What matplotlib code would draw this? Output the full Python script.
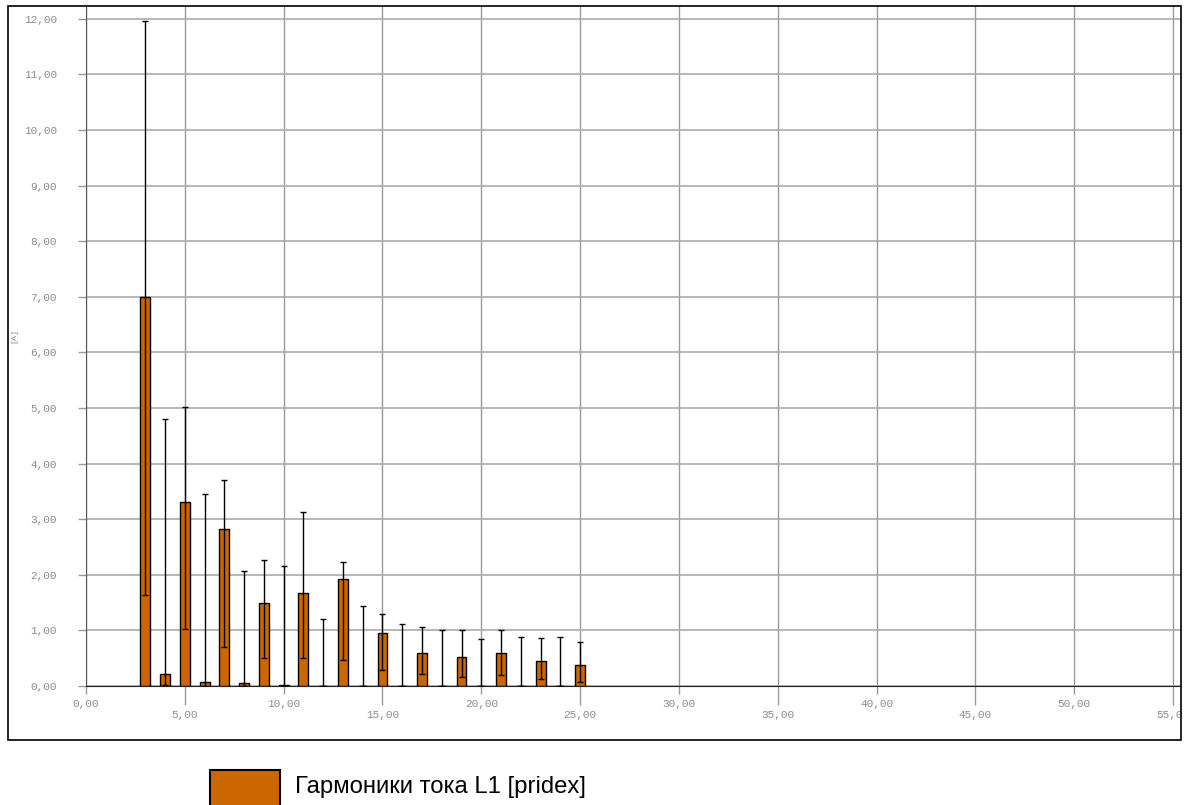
import matplotlib
matplotlib.use("Agg")
import matplotlib.pyplot as plt
from matplotlib.patches import Rectangle
from matplotlib.ticker import FuncFormatter, MultipleLocator, FixedLocator
import numpy as np

# Harmonic number, mean value and min/max range (A)
harmonics = list(range(3, 26))
values = [7.00, 0.22, 3.31, 0.08, 2.82, 0.06, 1.49, 0.01, 1.67, 0.00, 1.93, 0.00,
          0.96, 0.00, 0.59, 0.00, 0.52, 0.00, 0.59, 0.00, 0.45, 0.00, 0.38]
min_vals = [1.63, 0.01, 1.03, 0.00, 0.70, 0.00, 0.51, 0.00, 0.51, 0.00, 0.47, 0.00,
            0.29, 0.00, 0.22, 0.00, 0.16, 0.00, 0.19, 0.00, 0.12, 0.00, 0.07]
max_vals = [11.96, 4.81, 5.01, 3.46, 3.71, 2.07, 2.26, 2.16, 3.13, 1.21, 2.23, 1.44,
            1.30, 1.12, 1.07, 1.00, 1.01, 0.84, 1.01, 0.88, 0.86, 0.88, 0.79]
x_major = [0, 10, 20, 30, 40, 50]
x_minor = [5, 15, 25, 35, 45, 55]
legend_label = "Гармоники тока L1 [pridex]"
y_label = "[A]"

W, H = 1184, 805
fig = plt.figure(figsize=(W / 100, H / 100), dpi=100)

# axes placed in pixel coords: left 86, right 1181, bottom 686, top 6
ax = fig.add_axes([86 / W, (H - 686) / H, (1181 - 86) / W, (686 - 6) / H])

vals = np.array(values)
lo = vals - np.array(min_vals)
hi = np.array(max_vals) - vals

ax.bar(harmonics, values, width=0.5, color="#CC6600", edgecolor="black",
       linewidth=1, zorder=3)
ax.errorbar(harmonics, values, yerr=[lo, hi], fmt="none", ecolor="black",
            elinewidth=1, capsize=2, capthick=1, zorder=4)

ax.set_xlim(0, 55.4)
ax.set_ylim(0, 12.23)

fmt = FuncFormatter(lambda v, p: f"{v:.2f}".replace(".", ","))
ax.xaxis.set_major_locator(FixedLocator(x_major))
ax.xaxis.set_minor_locator(FixedLocator(x_minor))
ax.xaxis.set_major_formatter(fmt)
ax.xaxis.set_minor_formatter(fmt)
ax.yaxis.set_major_locator(MultipleLocator(1))
ax.yaxis.set_major_formatter(fmt)

label_color = "#8c8896"
tick_font = "Liberation Mono"
ax.tick_params(axis="x", which="major", length=6, width=1, color="#999999",
               pad=3, labelsize=8, labelcolor=label_color)
ax.tick_params(axis="x", which="minor", length=14, width=1, color="#999999",
               pad=3, labelsize=8, labelcolor=label_color)
ax.tick_params(axis="y", length=6, width=1, color="#999999", pad=15,
               labelsize=8, labelcolor=label_color)
for lab in ax.get_xticklabels(which="both") + ax.get_yticklabels():
    lab.set_family(tick_font)

ax.grid(True, which="both", axis="x", color="#999999", linewidth=1, zorder=0)
ax.grid(True, which="major", axis="y", color="#aaaaaa", linewidth=1.2, zorder=0)
ax.set_axisbelow(True)

for s in ["top", "right"]:
    ax.spines[s].set_visible(False)
ax.spines["left"].set_color("#555555")
ax.spines["bottom"].set_color("#222222")

fig.text(14 / W, (H - 335) / H, y_label, rotation=90, fontsize=6,
         family=tick_font, color=label_color, ha="center", va="center")

# outer frame
frame = Rectangle((8 / W, (H - 740) / H), (1181 - 8) / W, (740 - 6) / H,
                  transform=fig.transFigure, fill=False,
                  edgecolor="black", linewidth=1.2)
fig.patches.append(frame)

# tick labels are clipped by the frame (the 55,00 label is cut off)
for tick in ax.xaxis.get_minor_ticks() + ax.xaxis.get_major_ticks():
    tick.label1.set_clip_path(frame)
    tick.label1.set_clip_on(True)

# legend swatch and label
fig.patches.append(Rectangle((210 / W, -0.01), 70 / W, (H - 770) / H + 0.01,
                             transform=fig.transFigure, facecolor="#CC6600",
                             edgecolor="black", linewidth=1.5))
fig.text(295 / W, (H - 787) / H, legend_label, fontsize=17.2,
         family="Liberation Sans", color="black", ha="left", va="center")

fig.savefig("out.png", dpi=100)
